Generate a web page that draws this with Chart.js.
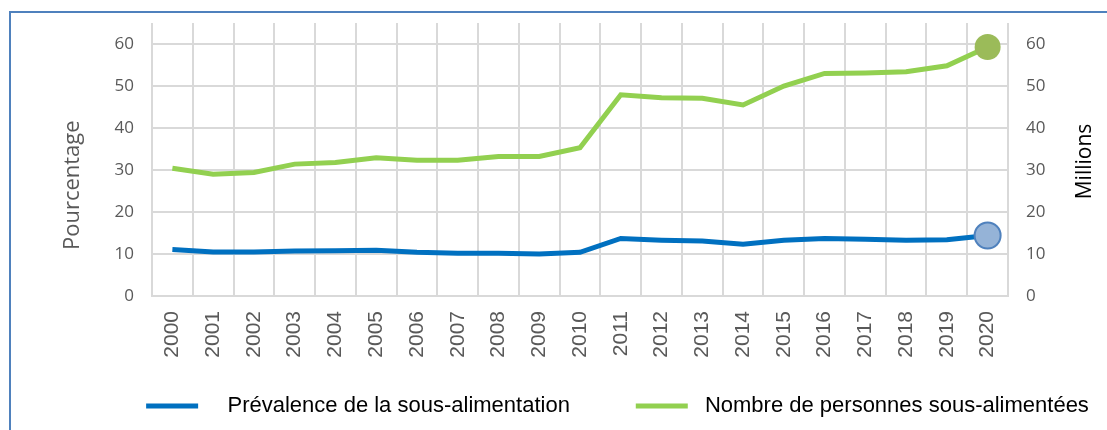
<!DOCTYPE html>
<html>
<head>
<meta charset="utf-8">
<script src="https://cdn.jsdelivr.net/npm/chart.js@4.4.0/dist/chart.umd.min.js"></script>
<style>
html, body { margin: 0; padding: 0; background: #fff; overflow: hidden; }
#wrap { position: relative; width: 1107px; height: 430px; }
#frame { position: absolute; left: 9px; top: 11px; width: 1200px; height: 600px;
         border: 2px solid #4f81bd; pointer-events: none; }
</style>
</head>
<body>
<div id="wrap">
  <canvas id="chart" width="1107" height="430"></canvas>
  <div id="frame"></div>
</div>
<script>
// years on the x axis
var years = ['2000','2001','2002','2003','2004','2005','2006','2007','2008','2009','2010',
             '2011','2012','2013','2014','2015','2016','2017','2018','2019','2020'];

// prévalence (%) - left axis
var prevalence = [11.1, 10.5, 10.5, 10.7, 10.8, 10.9, 10.4, 10.2, 10.2, 10.0, 10.4,
                  13.7, 13.3, 13.1, 12.3, 13.3, 13.7, 13.5, 13.3, 13.4, 14.4];

// nombre de personnes (millions) - right axis
var personnes = [30.4, 29.0, 29.4, 31.4, 31.8, 32.9, 32.3, 32.3, 33.2, 33.2, 35.3,
                 47.9, 47.2, 47.1, 45.5, 50.0, 53.0, 53.1, 53.4, 54.8, 59.3];

var axisMax = 65;
var tickStep = 10;

var grey = '#595959';
var gridCol = '#d9d9d9';
var clear = 'rgba(0,0,0,0)';
var last = years.length - 1;
var nb = function (n) { return '\u00a0'.repeat(n); };

function lastOnly(r) {
  return function (ctx) { return ctx.dataIndex === last ? r : 0; };
}

function keepTens(v) { return v % 10 === 0 ? v : ''; }
function gridTens(ctx) { return ctx.tick && ctx.tick.value % 10 !== 0 ? clear : gridCol; }

// legend sits right of centre in the original
var legendShift = {
  id: 'legendShift',
  afterLayout: function (chart) {
    chart.legend.left += 64;
    chart.legend.right += 64;
  }
};

// right axis title reads bottom-to-top, chart.js would turn it the other way
var rightTitle = {
  id: 'rightTitle',
  afterDraw: function (chart) {
    var s = chart.scales.y1;
    var ctx = chart.ctx;
    ctx.save();
    ctx.translate(s.right - 22, (s.top + s.bottom) / 2 + 2);
    ctx.rotate(-Math.PI / 2);
    ctx.font = "21px 'Open Sans', sans-serif";
    ctx.fillStyle = '#000';
    ctx.textAlign = 'center';
    ctx.textBaseline = 'middle';
    ctx.fillText('Millions', 0, 0);
    ctx.restore();
  }
};

var canvas = document.getElementById('chart');
var chart = new Chart(canvas, {
  type: 'line',
  data: {
    labels: years,
    datasets: [
      {
        label: 'Prévalence de la sous-alimentation',
        data: prevalence,
        yAxisID: 'y',
        borderColor: '#0070c0',
        backgroundColor: '#95b3d7',
        borderWidth: 5,
        tension: 0,
        pointRadius: lastOnly(13),
        pointHoverRadius: lastOnly(13),
        pointBackgroundColor: '#95b3d7',
        pointBorderColor: '#4f81bd',
        pointBorderWidth: 2
      },
      {
        label: 'Nombre de personnes sous-alimentées',
        data: personnes,
        yAxisID: 'y1',
        borderColor: '#92d050',
        backgroundColor: '#9bbb59',
        borderWidth: 5,
        tension: 0,
        pointRadius: lastOnly(13),
        pointHoverRadius: lastOnly(13),
        pointBackgroundColor: '#9bbb59',
        pointBorderColor: '#9bbb59',
        pointBorderWidth: 0
      }
    ]
  },
  options: {
    responsive: false,
    animation: false,
    events: [],
    layout: { padding: { top: 23, bottom: 3, left: 0, right: 0 } },
    plugins: {
      tooltip: { enabled: false },
      legend: {
        position: 'bottom',
        labels: {
          font: { family: "'Liberation Sans', Arial, sans-serif", size: 22 },
          color: grey,
          boxWidth: 52,
          boxHeight: 5,
          padding: 17,
          generateLabels: function (c) {
            var pre = [3, 1], post = [8, 0];
            return c.data.datasets.map(function (ds, i) {
              return {
                text: nb(pre[i]) + ds.label + nb(post[i]),
                fillStyle: ds.borderColor,
                strokeStyle: ds.borderColor,
                lineWidth: 0,
                hidden: false,
                datasetIndex: i
              };
            });
          }
        }
      }
    },
    scales: {
      x: {
        type: 'category',
        offset: true,
        grid: { offset: true, color: gridCol, lineWidth: 2, drawTicks: false },
        border: { color: gridCol, width: 2 },
        ticks: {
          color: grey,
          font: { family: "'Liberation Sans', Arial, sans-serif", size: 21 },
          minRotation: 90,
          maxRotation: 90,
          padding: 15,
          autoSkip: false
        },
        afterFit: function (s) { s.height = 82; }
      },
      y: {
        position: 'left',
        min: 0,
        max: axisMax,
        grid: { color: gridTens, lineWidth: 2, drawTicks: true, tickLength: 17, tickColor: clear },
        border: { display: false },
        ticks: {
          stepSize: tickStep,
          callback: keepTens,
          color: grey,
          padding: 1,
          font: { family: "'Open Sans', sans-serif", size: 17 }
        },
        title: {
          display: true,
          text: 'Pourcentage' + nb(9),
          color: grey,
          font: { family: "'Open Sans', sans-serif", size: 22 },
          padding: { top: 60, bottom: 0 }
        },
        afterFit: function (s) { s.width = 152; }
      },
      y1: {
        position: 'right',
        min: 0,
        max: axisMax,
        grid: { drawOnChartArea: false, drawTicks: true, tickLength: 17, tickColor: clear },
        border: { display: false },
        ticks: {
          stepSize: tickStep,
          callback: keepTens,
          color: grey,
          padding: 1,
          font: { family: "'Open Sans', sans-serif", size: 17 }
        },
        afterFit: function (s) { s.width = 99; }
      }
    }
  },
  plugins: [legendShift, rightTitle]
});
</script>
</body>
</html>
